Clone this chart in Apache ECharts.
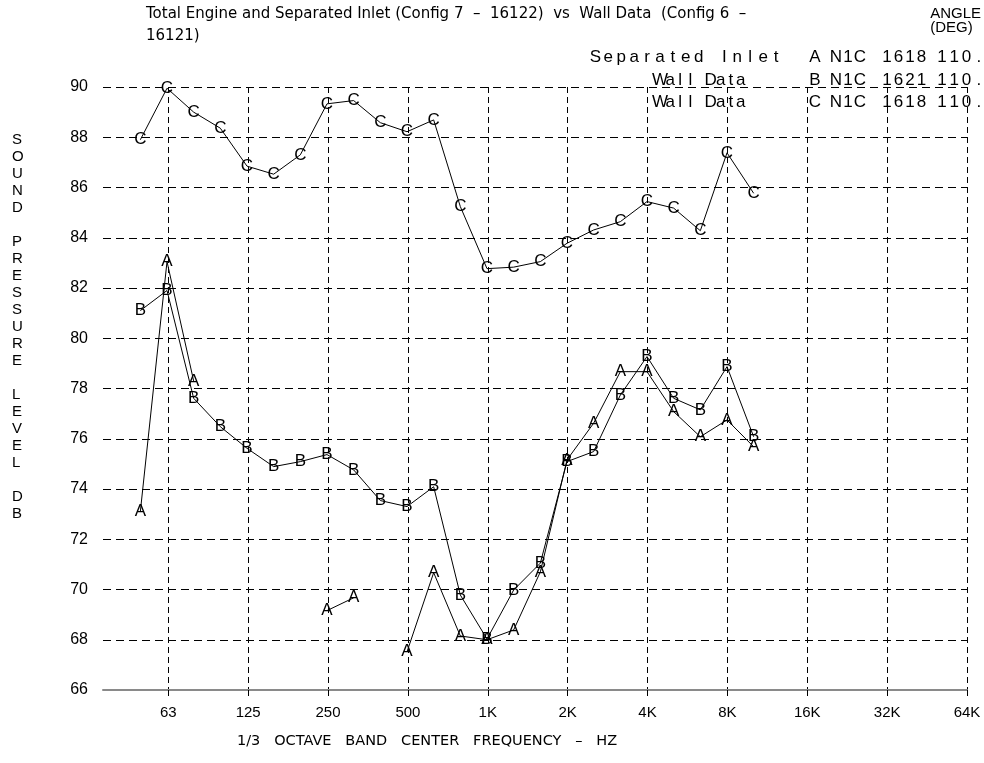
<!DOCTYPE html>
<html>
<head>
<meta charset="utf-8">
<script src="https://cdn.jsdelivr.net/npm/echarts@6/dist/echarts.min.js"></script>
<style>
html,body{margin:0;padding:0;background:#fff;}
#chart{width:984px;height:763px;}
</style>
</head>
<body>
<div id="chart"></div>
<script>
// 1/3 octave band centre frequencies (50 Hz ... 10 kHz)
const categories = ['50','63','80','100','125','160','200','250','315','400','500','630','800','1K','1.25K','1.6K','2K','2.5K','3.15K','4K','5K','6.3K','8K','10K'];
// Separated Inlet  A N1C 1618 110.
const seriesA = [73.1, 83.05, 78.3, null, null, null, null, 69.16, 69.67, null, 67.52, 70.67, 68.15, 68.0, 68.39, 70.7, 75.16, 76.62, 78.67, 78.67, 77.08, 76.08, 76.75, 75.68];
// Wall Data  B N1C 1621 110.
const seriesB = [81.1, 81.9, 77.61, 76.48, 75.62, 74.89, 75.09, 75.37, 74.76, 73.54, 73.30, 74.09, 69.78, 68.03, 69.98, 71.05, 75.09, 75.49, 77.74, 79.27, 77.61, 77.15, 78.87, 76.08];
// Wall Data  C N1C 1618 110.
const seriesC = [87.9, 89.95, 89.0, 88.36, 86.85, 86.53, 87.30, 89.33, 89.46, 88.58, 88.22, 88.69, 85.24, 82.77, 82.83, 83.05, 83.78, 84.31, 84.64, 85.44, 85.18, 84.28, 87.38, 85.77];
// octave tick labels
const tickLabels = ['63','125','250','500','1K','2K','4K','8K','16K','32K','64K'];
const legendNames = ['Separated Inlet', 'Wall Data', 'Wall Data'];
const legendCodes = [['A','N1C','1618','110.'], ['B','N1C','1621','110.'], ['C','N1C','1618','110.']];
const titleLines = ['Total Engine and Separated Inlet (Config 7  \u2013  16122)  vs  Wall Data  (Config 6  \u2013', '16121)'];
const yTitleWords = ['SOUND', 'PRESSURE', 'LEVEL', 'DB'];
const xTitle = '1/3   OCTAVE   BAND   CENTER   FREQUENCY   \u2013   HZ';

// x position: band index in 1/3 octave steps, 63 Hz = 0 (50 Hz = -1)
function pairs(vals){ return vals.map((v,i)=>[i-1, v]); }

const chart = echarts.init(document.getElementById('chart'), null, {renderer:'canvas'});
const font = 'Liberation Sans, Arial, sans-serif';
const G = {top: 87, bottom: 73, right: 17};

function mkSeries(letter, vals){
  return {
    type:'line', xAxisIndex:0, yAxisIndex:0,
    data: pairs(vals),
    connectNulls:false,
    symbol:'circle', symbolSize:1, showSymbol:true,
    itemStyle:{color:'rgba(0,0,0,0)'},
    lineStyle:{color:'#000', width:1},
    label:{show:true, position:'inside', formatter:letter, color:'#000', fontSize:17, fontFamily:font},
    emphasis:{disabled:true},
    animation:false, z:5
  };
}

// spaced-out text: each character placed on a fixed pitch (plotter-style lettering)
function spacedText(str, x0, pitch, yMid, size){
  const out = [];
  for (let i = 0; i < str.length; i++){
    const ch = str[i];
    if (ch === ' ') continue;
    out.push({type:'text', x: x0 + i*pitch, y: yMid,
      style:{text: ch, font: size+'px '+font, fill:'#000', align:'center', verticalAlign:'middle'}});
  }
  return out;
}

const legendGraphics = [];
const rowY = [57, 80, 102];
const nameX = [[589, 12.9], [655, 10.1], [655, 10.1]];
const codeCentres = [815, 836, 887, 942];
const codePitch = [12, 12, 11.5, 12.3];
legendNames.forEach((name, r)=>{
  legendGraphics.push(...spacedText(name, nameX[r][0] + nameX[r][1]/2, nameX[r][1], rowY[r], 17));
  legendCodes[r].forEach((tok, k)=>{
    legendGraphics.push(...spacedText(tok, codeCentres[k], codePitch[k], rowY[r], 17));
  });
});

const yTitleText = yTitleWords.map(w=>w.split('').join('\n')).join('\n\n');

const option = {
  backgroundColor:'#fff',
  animation:false,
  grid:[
    {left:103, right:G.right, top:G.top, bottom:G.bottom},
    {left:168.3, right:G.right, top:G.top, bottom:G.bottom}
  ],
  xAxis:[
    {type:'value', gridIndex:0, min:-2.4, max:30,
     axisLine:{show:true, lineStyle:{color:'#8a8a8a', width:2}},
     axisTick:{show:false}, axisLabel:{show:false}, splitLine:{show:false}},
    {type:'value', gridIndex:1, min:0, max:30, interval:3,
     axisLine:{show:false},
     axisTick:{show:true, length:6, inside:false, lineStyle:{color:'#000', width:1}},
     axisLabel:{show:true, margin:15, color:'#000', fontSize:15, fontFamily:font,
       formatter:(v)=>tickLabels[Math.round(v/3)] || ''},
     splitLine:{show:true, lineStyle:{color:'#000', width:1, type:[6,4]}}}
  ],
  yAxis:[
    {type:'value', gridIndex:0, min:66, max:90, interval:2,
     axisLine:{show:false}, axisTick:{show:false},
     axisLabel:{show:true, margin:15, color:'#000', fontSize:16, fontFamily:font},
     splitLine:{show:true, lineStyle:{color:'#000', width:1, type:[8,5]}}},
    {type:'value', gridIndex:1, min:66, max:90, interval:2, show:false, splitLine:{show:false}}
  ],
  series:[
    mkSeries('C', seriesC),
    mkSeries('B', seriesB),
    mkSeries('A', seriesA)
  ],
  graphic:[
    {type:'text', left:146, top:3, style:{text:titleLines.join('\n'), font:'15px DejaVu Sans, sans-serif', fill:'#000', lineHeight:22}},
    {type:'text', right:3, top:6, style:{text:'ANGLE\n(DEG)', font:'15px '+font, fill:'#000', align:'right', lineHeight:14}},
    {type:'text', left:12, top:131, style:{text:yTitleText, font:'15px '+font, fill:'#000', lineHeight:17, align:'left'}},
    {type:'text', left:237, top:734, style:{text:xTitle, font:'14.5px DejaVu Sans, sans-serif', fill:'#000'}}
  ].concat(legendGraphics)
};
chart.setOption(option);
</script>
</body>
</html>
